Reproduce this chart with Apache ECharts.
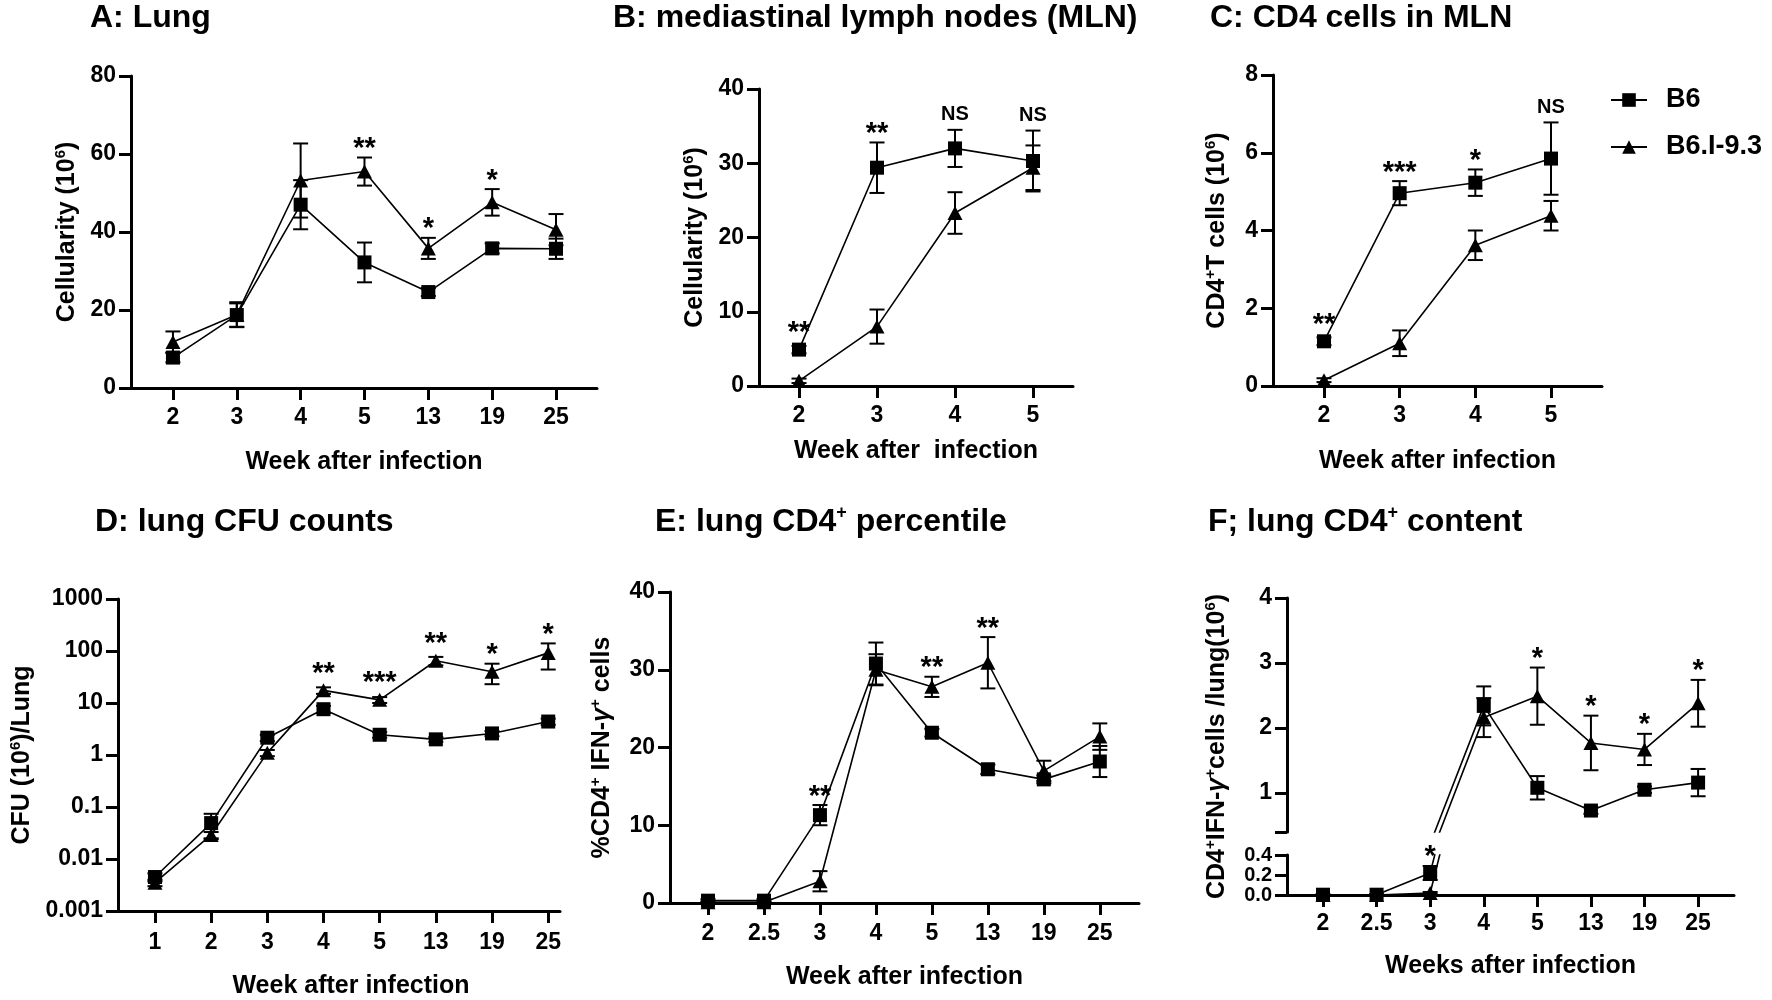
<!DOCTYPE html>
<html><head><meta charset="utf-8">
<script src="https://cdn.jsdelivr.net/npm/echarts@6/dist/echarts.min.js"></script>
<style>html,body{margin:0;padding:0;background:#fff}#c{width:1772px;height:1000px}</style>
</head><body><div id="c"></div>
<script>
// ---------- DATA ----------
const catsA = ['2','3','4','5','13','19','25'];
const b6A = [7.8, 18.7, 47.0, 32.2, 24.6, 35.8, 35.7];
const b6AErr = [1.2, 3.0, 6.3, 5.1, 1.0, 1.3, 2.6];
const i93A = [11.8, 18.8, 53.2, 55.5, 35.8, 47.6, 40.6];
const i93AErr = [2.7, 3.2, 9.5, 3.6, 2.7, 3.4, 4.0];
const sigA = ['', '', '', '**', '*', '*', ''];

const catsB = ['2','3','4','5'];
const b6B = [4.9, 29.4, 32.0, 30.3];
const b6BErr = [0.5, 3.4, 2.5, 4.1];
const i93B = [0.7, 8.0, 23.3, 29.4];
const i93BErr = [0.3, 2.3, 2.8, 3.0];
const sigB = ['**', '**', 'NS', 'NS'];

const catsC = ['2','3','4','5'];
const b6C = [1.15, 4.96, 5.23, 5.85];
const b6CErr = [0.1, 0.31, 0.34, 0.93];
const i93C = [0.15, 1.10, 3.62, 4.38];
const i93CErr = [0.05, 0.33, 0.38, 0.38];
const sigC = ['**', '***', '*', 'NS'];

const catsD = ['1','2','3','4','5','13','19','25'];
const b6D = [0.0045, 0.049, 2.15, 7.6, 2.45, 2.0, 2.6, 4.4];
const b6DErr = [0.0008, 0.025, 0.3, 1.2, 0.3, 0.2, 0.3, 0.6];
const i93D = [0.0035, 0.029, 1.1, 17.5, 11.5, 65, 40, 92];
const i93DErr = [0.0005, 0.004, 0.15, 2.5, 1.5, 12, 17, 48];
const sigD = ['', '', '', '**', '***', '**', '*', '*'];
const ticksD = [0.001, 0.01, 0.1, 1, 10, 100, 1000];

const catsE = ['2','2.5','3','4','5','13','19','25'];
const b6E = [0.3, 0.3, 11.3, 30.8, 21.9, 17.2, 15.9, 18.2];
const b6EErr = [0.2, 0.2, 1.3, 2.7, 0.5, 0.6, 0.5, 2.0];
const i93E = [0.1, 0.1, 2.8, 30.0, 27.8, 30.9, 17.0, 21.4];
const i93EErr = [0.1, 0.1, 1.3, 2.0, 1.3, 3.3, 1.3, 1.7];
const sigE = ['', '', '**', '', '**', '**', '', ''];

const catsF = ['2','2.5','3','4','5','13','19','25'];
const b6F = [0.003, 0.003, 0.22, 2.34, 1.08, 0.73, 1.05, 1.16];
const b6FErr = [0.005, 0.005, 0.07, 0.3, 0.18, 0.05, 0.05, 0.21];
const i93F = [0.0, 0.0, 0.02, 2.16, 2.49, 1.77, 1.67, 2.38];
const i93FErr = [0, 0, 0.01, 0.3, 0.44, 0.42, 0.24, 0.36];
const sigF = ['', '', '*', '', '*', '*', '*', '*'];
const ticksFUpper = [0.4, 1, 2, 3, 4];
const labelsFUpper = [1, 2, 3, 4];
const ticksFLower = [0, 0.2, 0.4];

// ---------- STYLE ----------
const FONT = "'Liberation Sans', Arial, Helvetica, sans-serif";
const BLK = '#000';
const richSup = {
  sup: {fontSize: 15, fontWeight: 'bold', fontFamily: FONT, color: BLK, verticalAlign: 'top', lineHeight: 14},
  g: {fontSize: 25, fontWeight: 'bold', fontStyle: 'italic', fontFamily: FONT, color: BLK, lineHeight: 28}
};
const titleRich = {
  sup: {fontSize: 18, fontWeight: 'bold', fontFamily: FONT, color: BLK, verticalAlign: 'top', lineHeight: 18}
};

const grids = [
  {left: 131, top: 76, width: 466, height: 312},   // A
  {left: 759, top: 89, width: 314, height: 297},   // B
  {left: 1273, top: 75, width: 329, height: 311},  // C
  {left: 118, top: 599, width: 442, height: 312},  // D
  {left: 670, top: 592, width: 469, height: 311},  // E
  {left: 1287, top: 598, width: 447, height: 234}, // F upper
  {left: 1287, top: 855, width: 447, height: 40},  // F lower
  {left: 1287, top: 598, width: 447, height: 297}  // F name holder
];

const axisLine = {show: true, onZero: false, lineStyle: {color: BLK, width: 3}};
const axisTick = {show: true, length: 12, lineStyle: {color: BLK, width: 3}};
function lbl(extra) {
  return Object.assign({color: BLK, fontSize: 23, fontWeight: 'bold', fontFamily: FONT,
    showMinLabel: true, showMaxLabel: true, hideOverlap: false}, extra);
}

const xAxes = [];
const yAxes = [];
const series = [];

function makeX(g, cats, min, max, name, nameGap, labelMargin, namePad) {
  const idx = cats.map((c, i) => i);
  xAxes.push({
    gridIndex: g, type: 'value', min: min, max: max,
    axisLine: axisLine, splitLine: {show: false},
    axisTick: Object.assign({customValues: idx}, axisTick),
    axisLabel: lbl({customValues: idx, margin: labelMargin, formatter: v => cats[Math.round(v)]}),
    name: name, nameLocation: 'middle', nameGap: nameGap,
    nameTextStyle: {fontSize: 25, fontWeight: 'bold', fontFamily: FONT, color: BLK, padding: namePad || 0}
  });
}
function makeY(g, opts, name, nameGap) {
  yAxes.push(Object.assign({
    gridIndex: g, type: 'value',
    axisLine: axisLine, splitLine: {show: false}, axisTick: axisTick,
    axisLabel: lbl({margin: 15}),
    name: name, nameLocation: 'middle', nameGap: nameGap,
    nameTextStyle: {fontSize: 25, fontWeight: 'bold', fontFamily: FONT, color: BLK, lineHeight: 28, rich: richSup}
  }, opts));
}

function errSeries(g, vals, errs, keep) {
  return {
    type: 'custom', xAxisIndex: g, yAxisIndex: g, silent: true, z: 2,
    data: vals.map((v, i) => [i, v, errs[i]]),
    encode: {x: 0, y: 1},
    renderItem: function (params, api) {
      const x = api.value(0), m = api.value(1), e = api.value(2);
      if (!e) return;
      if (keep && !keep(m)) return;
      const t = api.coord([x, m + e]);
      const b = api.coord([x, m - e]);
      const hw = 7.5;
      const st = {stroke: BLK, lineWidth: 2, fill: null};
      return {type: 'group', children: [
        {type: 'line', shape: {x1: t[0], y1: t[1], x2: b[0], y2: b[1]}, style: st},
        {type: 'line', shape: {x1: t[0] - hw, y1: t[1], x2: t[0] + hw, y2: t[1]}, style: st},
        {type: 'line', shape: {x1: b[0] - hw, y1: b[1], x2: b[0] + hw, y2: b[1]}, style: st}
      ]};
    }
  };
}
function lineSeries(g, name, vals, symbol, size) {
  return {
    type: 'line', name: name, xAxisIndex: g, yAxisIndex: g, z: 3, clip: true,
    data: vals.map((v, i) => [i, v]),
    symbol: symbol, symbolSize: size, showSymbol: true,
    lineStyle: {color: BLK, width: 1.6}, itemStyle: {color: BLK},
    emphasis: {disabled: true}
  };
}
// significance marks: placed above the highest error cap / marker of that week
function sigSeries(g, sig, b6, b6e, i93, i93e, keep) {
  const texts = [];
  const data = [];
  sig.forEach((s, i) => {
    if (!s) return;
    const up = Math.max(b6[i] + b6e[i], i93[i] + i93e[i]);
    if (keep && !keep(up)) return;
    texts.push(s);
    data.push([i, b6[i] + b6e[i], i93[i] + i93e[i], b6[i], i93[i]]);
  });
  return {
    type: 'custom', xAxisIndex: g, yAxisIndex: g, z: 4, silent: true,
    data: data, encode: {x: 0, y: [1, 2]},
    renderItem: function (params, api) {
      const x = api.value(0);
      const s = texts[params.dataIndex];
      const p1 = api.coord([x, api.value(1)]);
      const p2 = api.coord([x, api.value(2)]);
      const p3 = api.coord([x, api.value(3)]);
      const p4 = api.coord([x, api.value(4)]);
      const yTop = Math.min(p1[1], p2[1], p3[1] - 8, p4[1] - 8);
      const isNS = s === 'NS';
      return {
        type: 'text', x: p1[0], y: isNS ? yTop - 5 : yTop + 6,
        style: {text: s, fill: BLK, fontFamily: FONT, fontWeight: 'bold',
          fontSize: isNS ? 20 : 29, align: 'center', verticalAlign: 'bottom'}
      };
    }
  };
}
function panel(g, b6, b6e, i93, i93e, sig, keep) {
  series.push(errSeries(g, i93, i93e, keep));
  series.push(errSeries(g, b6, b6e, keep));
  series.push(lineSeries(g, 'B6.I-9.3', i93, 'triangle', [15, 14]));
  series.push(lineSeries(g, 'B6', b6, 'rect', 14));
  series.push(sigSeries(g, sig, b6, b6e, i93, i93e, keep));
}

// A
makeX(0, catsA, -0.657, 6.642, 'Week after infection', 62, 18);
makeY(0, {min: 0, max: 80, interval: 20}, 'Cellularity (10{sup|6})', 50);
panel(0, b6A, b6AErr, i93A, i93AErr, sigA);
// B
makeX(1, catsB, -0.513, 3.513, 'Week after  infection', 53, 18);
makeY(1, {min: 0, max: 40, interval: 10}, 'Cellularity (10{sup|6})', 50);
panel(1, b6B, b6BErr, i93B, i93BErr, sigB);
// C
makeX(2, catsC, -0.674, 3.674, 'Week after infection', 63, 18);
makeY(2, {min: 0, max: 8, interval: 2}, 'CD4{sup|+}T cells (10{sup|6})', 42);
panel(2, b6C, b6CErr, i93C, i93CErr, sigC);
// D
makeX(3, catsD, -0.658, 7.21, 'Week after infection', 63, 20, [0, 0, 0, 24]);
makeY(3, {type: 'log', logBase: 10, min: 0.001, max: 1000,
  axisTick: Object.assign({customValues: ticksD}, axisTick),
  axisLabel: lbl({margin: 15, customValues: ticksD, formatter: v => String(v)})},
  'CFU (10{sup|6})/Lung', 82);
panel(3, b6D, b6DErr, i93D, i93DErr, sigD);
// E
makeX(4, catsE, -0.679, 7.70, 'Week after infection', 62, 19);
makeY(4, {min: 0, max: 40, interval: 10}, '%CD4{sup|+} IFN-{g|γ}{sup|+} cells', 54);
panel(4, b6E, b6EErr, i93E, i93EErr, sigE);
// F upper
xAxes.push({gridIndex: 5, type: 'value', min: -0.672, max: 7.67, show: false});
makeY(5, {min: 0.4, max: 4,
  axisTick: Object.assign({customValues: ticksFUpper}, axisTick),
  axisLabel: lbl({margin: 15, customValues: labelsFUpper})}, '', 0);
panel(5, b6F, b6FErr, i93F, i93FErr, sigF, v => v >= 0.4);
// F lower
makeX(6, catsF, -0.672, 7.67, 'Weeks after infection', 59, 17);
makeY(6, {min: 0, max: 0.4,
  axisTick: Object.assign({customValues: ticksFLower}, axisTick),
  axisLabel: lbl({margin: 15, fontSize: 20, lineHeight: 20, customValues: ticksFLower, formatter: v => v.toFixed(1)})}, '', 0);
panel(6, b6F, b6FErr, i93F, i93FErr, sigF, v => v < 0.4);
// F name holder
xAxes.push({gridIndex: 7, type: 'value', min: 0, max: 1, show: false});
yAxes.push({gridIndex: 7, type: 'value', min: 0, max: 1, show: true,
  axisLine: {show: false}, axisTick: {show: false}, axisLabel: {show: false}, splitLine: {show: false},
  name: 'CD4{sup|+}IFN-{g|γ}{sup|+}cells /lung(10{sup|6})', nameLocation: 'middle', nameGap: 56,
  nameTextStyle: {fontSize: 25, fontWeight: 'bold', fontFamily: FONT, color: BLK, lineHeight: 28, rich: richSup}});

const titleStyle = {fontSize: 32, fontWeight: 'bold', fontFamily: FONT, color: BLK, lineHeight: 36, rich: titleRich};
const titles = [
  ['A: Lung', 90, 0],
  ['B: mediastinal lymph nodes (MLN)', 613, 0],
  ['C: CD4 cells in MLN', 1210, 0],
  ['D: lung CFU counts', 95, 504],
  ['E: lung CD4{sup|+} percentile', 655, 504],
  ['F; lung CD4{sup|+} content', 1208, 504]
].map(t => ({text: t[0], left: t[1], top: t[2], padding: 0, textStyle: titleStyle}));

const chart = echarts.init(document.getElementById('c'), null, {renderer: 'canvas'});
chart.setOption({
  animation: false,
  backgroundColor: '#fff',
  title: titles,
  legend: {
    data: ['B6', 'B6.I-9.3'], orient: 'vertical', left: 1610, top: 85, padding: 0,
    itemWidth: 36, itemHeight: 17, itemGap: 17, selectedMode: false,
    textStyle: {fontSize: 27, fontWeight: 'bold', color: BLK, fontFamily: FONT, lineHeight: 30, padding: [0, 0, 0, 14]}
  },
  grid: grids,
  xAxis: xAxes,
  yAxis: yAxes,
  series: series
});
</script>
</body></html>
